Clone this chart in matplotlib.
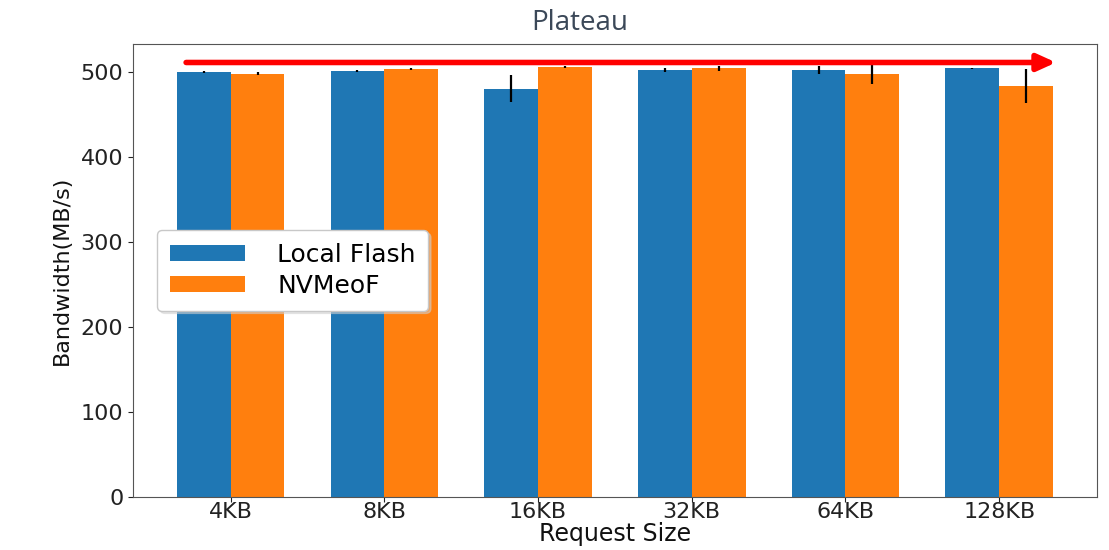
import numpy as np
import matplotlib
matplotlib.use("Agg")
import matplotlib.pyplot as plt

# Request sizes and measured bandwidth (MB/s)
sizes = ["4KB", "8KB", "16KB", "32KB", "64KB", "128KB"]
local_flash = [500, 501, 480, 502, 502, 504]
local_flash_err = [1, 1, 16, 2, 5, 1]
nvmeof = [498, 503, 506, 504, 497, 483]
nvmeof_err = [2, 1, 1, 3, 11, 20]

# Level of the plateau arrow (MB/s)
plateau_level = 511

blue = "#1f77b4"
orange = "#ff7f0e"

fig = plt.figure(figsize=(11.09, 5.5), dpi=100)
ax = fig.add_axes([0.12, 0.0964, 0.869, 0.824])

x = np.arange(len(sizes))
w = 0.35
ax.bar(x - w / 2, local_flash, w, yerr=local_flash_err, color=blue,
       ecolor="black", error_kw=dict(elinewidth=1.6), label="Local Flash")
ax.bar(x + w / 2, nvmeof, w, yerr=nvmeof_err, color=orange,
       ecolor="black", error_kw=dict(elinewidth=1.6), label="NVMeoF")

ax.set_ylim(0, 533)
ax.set_yticks([0, 100, 200, 300, 400, 500])
ax.set_xticks(x)
ax.set_xticklabels(sizes)
ax.tick_params(axis="both", labelsize=16, colors="#222222")
ax.tick_params(axis="x", pad=0)
for s in ax.spines.values():
    s.set_color("#555555")

ax.set_xlabel("Request Size", fontsize=17, color="#111111", labelpad=0)
ax.set_ylabel("Bandwidth(MB/s)", fontsize=16, color="#111111",
              family=["Liberation Sans Narrow", "DejaVu Sans"], labelpad=6)

leg = ax.legend(loc="center left", bbox_to_anchor=(0.012, 0.5), fontsize=18,
                handlelength=3.0, handleheight=0.6, borderpad=0.5,
                labelspacing=0.3, handletextpad=1.3, framealpha=1,
                edgecolor="#c8c8c8", fancybox=True, shadow={"color": "#d0d0d0"})

# Plateau arrow spanning all request sizes
ax.annotate("", xy=(x[-1] + 0.37, plateau_level), xytext=(x[0] - 0.29, plateau_level),
            arrowprops=dict(arrowstyle="-|>,head_length=1.1,head_width=0.5",
                            color="red", lw=4, shrinkA=0, shrinkB=0))

fig.text(0.523, 0.958, "Plateau", ha="center", va="center", fontsize=20,
         color="#3b4858", family=["Open Sans", "DejaVu Sans"])

fig.savefig("out.png", dpi=100)
